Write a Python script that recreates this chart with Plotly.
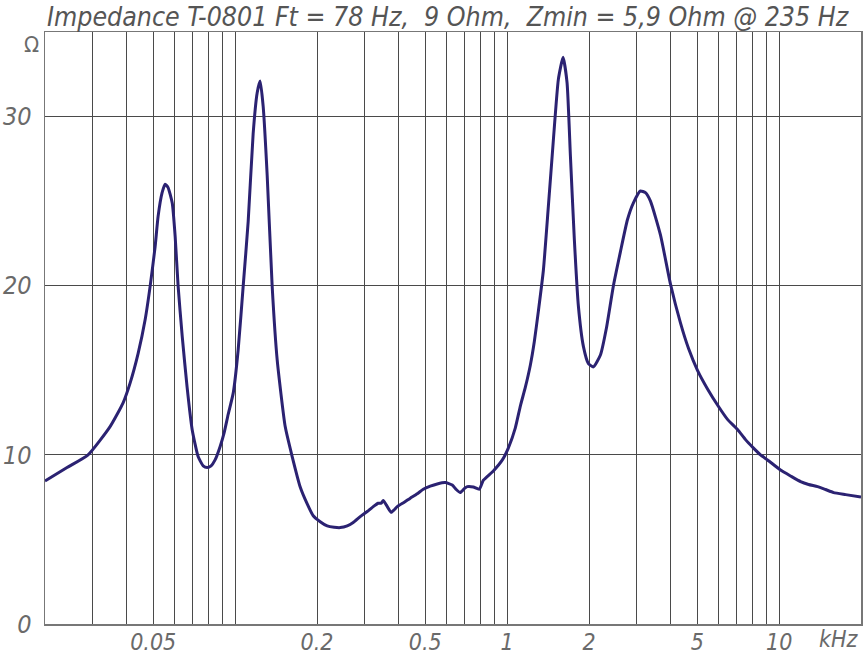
import plotly.graph_objects as go

# Frequency in kHz, impedance in ohm
freq_khz = [0.0200, 0.0241, 0.0288, 0.0347, 0.0387, 0.0411, 0.0440, 0.0467, 0.0487, 0.0508,
            0.0521, 0.0539, 0.0553, 0.0567, 0.0587, 0.0602, 0.0617, 0.0639, 0.0666, 0.0695,
            0.0731, 0.0763, 0.0789, 0.0816, 0.0844, 0.0881, 0.0911, 0.0943, 0.0984, 0.1026,
            0.1071, 0.1117, 0.1165, 0.1205, 0.1236, 0.1268, 0.1312, 0.1368, 0.1428, 0.1528,
            0.1621, 0.1735, 0.1841, 0.1937, 0.2055, 0.2180, 0.2313, 0.2434, 0.2583, 0.2718,
            0.2884, 0.3059, 0.3219, 0.3358, 0.3445, 0.3504, 0.3594, 0.3749, 0.3945, 0.4186,
            0.4404, 0.4673, 0.4917, 0.5217, 0.5535, 0.5923, 0.6285, 0.6501, 0.6725, 0.6957,
            0.7136, 0.7513, 0.7905, 0.8178, 0.8899, 0.9604, 1.010, 1.072, 1.119, 1.167,
            1.217, 1.259, 1.303, 1.359, 1.418, 1.479, 1.543, 1.606, 1.661, 1.709,
            1.767, 1.828, 1.908, 1.990, 2.076, 2.203, 2.318, 2.459, 2.609, 2.769,
            2.913, 3.091, 3.225, 3.365, 3.662, 3.986, 4.338, 4.642, 5.010, 5.455,
            5.986, 6.460, 7.031, 7.524, 8.052, 8.543, 9.065, 10.12, 11.02, 11.99,
            12.83, 13.85, 14.81, 15.86, 17.56, 20.00]
impedance_ohm = [8.46, 9.25, 10.0, 11.67, 13.06, 14.24, 16.0, 18.0, 19.96, 22.3,
                 24.1, 25.5, 26.0, 25.8, 24.9, 22.9, 20.0, 17.0, 14.0, 11.5,
                 9.9, 9.35, 9.25, 9.35, 9.7, 10.5, 11.3, 12.4, 13.65, 16.2,
                 20.0, 23.8, 29.0, 31.4, 32.1, 30.6, 26.5, 20.0, 15.6, 11.67,
                 9.9, 8.1, 7.1, 6.4, 6.05, 5.8, 5.72, 5.7, 5.8, 6.0,
                 6.35, 6.65, 6.94, 7.14, 7.15, 7.3, 7.04, 6.6, 6.94, 7.2,
                 7.44, 7.7, 7.97, 8.15, 8.28, 8.36, 8.22, 7.95, 7.77, 8.0,
                 8.12, 8.1, 7.97, 8.5, 9.05, 9.7, 10.4, 11.6, 12.9, 14.0,
                 15.3, 16.7, 18.5, 20.9, 24.7, 28.6, 32.2, 33.5, 32.0, 27.65,
                 22.7, 18.8, 16.4, 15.4, 15.2, 15.9, 17.5, 20.0, 22.0, 23.9,
                 24.9, 25.6, 25.5, 25.0, 23.0, 20.1, 17.8, 16.3, 15.0, 13.9,
                 12.86, 12.1, 11.5, 10.9, 10.4, 10.0, 9.7, 9.1, 8.75, 8.42,
                 8.25, 8.12, 7.95, 7.77, 7.65, 7.5]

x_grid = [0.03, 0.04, 0.05, 0.06, 0.07, 0.08, 0.09,
          0.1, 0.2, 0.3, 0.4, 0.5, 0.6, 0.7, 0.8, 0.9,
          1, 2, 3, 4, 5, 6, 7, 8, 9, 10]
x_labels = {0.05: "0.05", 0.2: "0.2", 0.5: "0.5", 1: "1", 2: "2", 5: "5", 10: "10"}
y_ticks = [0, 10, 20, 30]
title_text = "Impedance T-0801 Ft = 78 Hz,  9 Ohm,  Zmin = 5,9 Ohm @ 235 Hz"

FONT = "Liberation Sans Narrow, DejaVu Sans Condensed, sans-serif"

fig = go.Figure()
fig.add_trace(go.Scatter(
    x=freq_khz, y=impedance_ohm, mode="lines",
    line=dict(color="#2b2272", width=3, shape="spline", smoothing=0.5),
    hoverinfo="skip", showlegend=False))

fig.update_layout(
    width=863, height=654,
    margin=dict(l=45, r=2, t=32, b=30, autoexpand=False),
    paper_bgcolor="white", plot_bgcolor="white",
    showlegend=False,
    xaxis=dict(
        type="log", range=[-1.69897, 1.30103], automargin=False,
        tickmode="array", tickvals=x_grid,
        ticktext=[x_labels.get(v, "") for v in x_grid],
        showgrid=True, gridcolor="#4a4a4a", gridwidth=1,
        showline=True, linecolor="#777777", linewidth=1.5, mirror=True,
        ticks="", zeroline=False, ticklabelstandoff=-3,
        tickfont=dict(family=FONT, size=23, color="#6a6a6a", style="italic"),
    ),
    yaxis=dict(
        range=[0, 35], automargin=False, tickmode="array", tickvals=y_ticks,
        ticktext=[str(v) for v in y_ticks],
        showgrid=True, gridcolor="#4a4a4a", gridwidth=1,
        showline=True, linecolor="#777777", linewidth=1.5, mirror=True,
        ticks="", zeroline=False, ticklabelstandoff=7,
        tickfont=dict(family=FONT, size=25, color="#6a6a6a", style="italic"),
    ),
    annotations=[
        dict(text=title_text, xref="paper", yref="paper", x=0.0, y=1.0,
             xanchor="left", yanchor="bottom", yshift=-2, showarrow=False,
             font=dict(family=FONT, size=26.5, color="#555555", style="italic")),
        dict(text="kHz", xref="paper", yref="paper", x=1.0, y=0.0,
             xanchor="right", yanchor="top", yshift=0, showarrow=False,
             font=dict(family=FONT, size=23, color="#6a6a6a", style="italic")),
        dict(text="Ω", xref="paper", yref="paper", x=0.0, y=1.0,
             xanchor="right", yanchor="top", xshift=-4, yshift=2, showarrow=False,
             font=dict(family=FONT, size=22, color="#6a6a6a")),
    ],
)

fig.write_html(
    "out.html",
    config={"displayModeBar": False, "staticPlot": True},
    post_script="document.body.style.margin='0';document.body.style.padding='0';",
)
